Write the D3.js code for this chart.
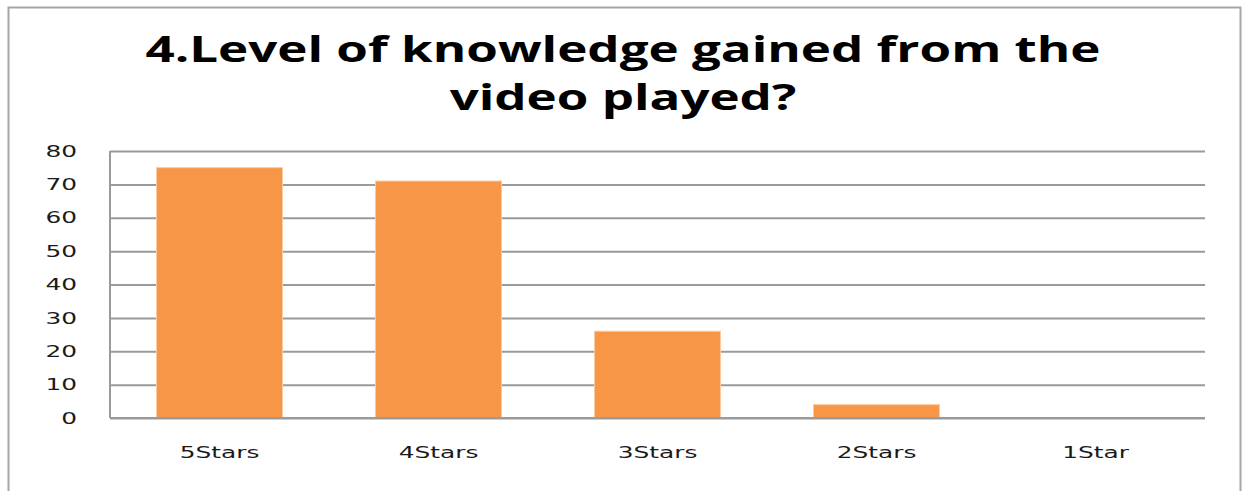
<!DOCTYPE html>
<html>
<head>
<meta charset="utf-8">
<script src="https://cdn.jsdelivr.net/npm/d3@7"></script>
<style>
  body { margin: 0; background: #fff; }
  svg { display: block; }
</style>
</head>
<body>
<svg id="chart"></svg>
<script>
// data
const categories = ['5Stars', '4Stars', '3Stars', '2Stars', '1Star'];
const counts = [75, 71, 26, 4, 0];
const yTicks = [0, 10, 20, 30, 40, 50, 60, 70, 80];
const titleLines = ['4.Level of knowledge gained from the', 'video played?'];

const W = 1242, H = 491;
const margin = {top: 151, right: 37, bottom: 73, left: 110};
const width = W - margin.left - margin.right;
const height = H - margin.top - margin.bottom;

// the original picture is stretched sideways, so text gets widened too
const labelStretch = 1.55;
function stretch(sel, factor) {
    sel.each(function() {
        const len = this.getComputedTextLength();
        d3.select(this)
            .attr('textLength', len * factor)
            .attr('lengthAdjust', 'spacingAndGlyphs');
    });
}

const svg = d3.select('#chart').attr('width', W).attr('height', H);

// outer chart frame
svg.append('rect')
    .attr('x', 8.5).attr('y', 7.5)
    .attr('width', 1232).attr('height', 500)
    .attr('fill', 'none')
    .attr('stroke', '#a6a6a6')
    .attr('stroke-width', 2);

// title
const title = svg.append('g').selectAll('text')
  .data(titleLines)
  .join('text')
    .attr('x', 623)
    .attr('y', (d, i) => 62 + i * 48)
    .attr('text-anchor', 'middle')
    .style('font-family', '"Open Sans", "DejaVu Sans", sans-serif')
    .style('font-weight', 700)
    .style('font-size', '35px')
    .style('fill', '#000')
    .text(d => d);
const titleStretch = 955 / title.node().getComputedTextLength();
stretch(title, titleStretch);

const chart = svg.append('g')
    .attr('transform', 'translate(' + margin.left + ',' + margin.top + ')');

const x = d3.scaleBand()
    .domain(categories)
    .range([0, width])
    .paddingInner(0.425)
    .paddingOuter(0.2125);

const y = d3.scaleLinear()
    .domain([0, 80])
    .range([height, 0]);

// gridlines
chart.append('g')
    .attr('class', 'grid')
    .call(d3.axisLeft(y).tickValues(yTicks).tickSize(-width).tickFormat(''))
    .call(g => g.select('.domain').remove())
    .call(g => g.selectAll('line').attr('stroke', '#9a9a9a').attr('stroke-width', 2));

// left axis line
chart.append('line')
    .attr('x1', 0).attr('x2', 0)
    .attr('y1', 0).attr('y2', height)
    .attr('stroke', '#9a9a9a').attr('stroke-width', 2);

// y tick labels
chart.append('g')
    .call(d3.axisLeft(y).tickValues(yTicks).tickSize(0).tickPadding(33))
    .call(g => g.select('.domain').remove())
    .call(g => g.selectAll('text')
        .style('font-family', '"DejaVu Sans", Verdana, sans-serif')
        .style('font-size', '16px')
        .style('fill', '#1a1a1a')
        .call(stretch, labelStretch));

// bars
chart.selectAll('.bar')
  .data(counts)
  .join('rect')
    .attr('class', 'bar')
    .attr('x', (d, i) => x(categories[i]))
    .attr('y', d => y(d))
    .attr('width', x.bandwidth())
    .attr('height', d => height - y(d))
    .attr('fill', '#f79646')
    .attr('stroke', '#fbc9a0')
    .attr('stroke-width', 1);

// baseline redrawn on top of bars
chart.append('line')
    .attr('x1', 0).attr('x2', width)
    .attr('y1', y(0)).attr('y2', y(0))
    .attr('stroke', '#9a9a9a').attr('stroke-width', 2);

// x labels
chart.append('g')
    .attr('transform', 'translate(0,' + height + ')')
    .call(d3.axisBottom(x).tickSize(0).tickPadding(29))
    .call(g => g.select('.domain').remove())
    .call(g => g.selectAll('text')
        .style('font-family', '"DejaVu Sans", Verdana, sans-serif')
        .style('font-size', '16px')
        .style('fill', '#1a1a1a')
        .call(stretch, labelStretch));
</script>
</body>
</html>
